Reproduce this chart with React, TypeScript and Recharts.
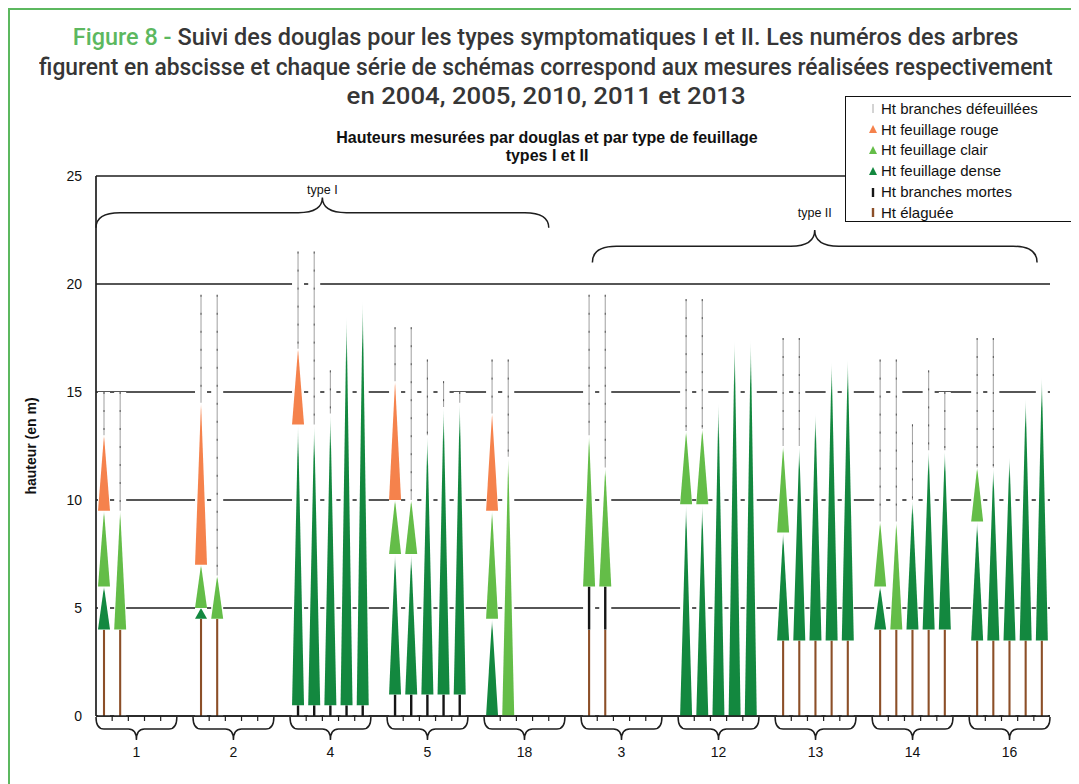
import React from 'react';
import { BarChart, Bar, XAxis, YAxis, CartesianGrid, ReferenceArea } from 'recharts';

// tree numbers on the x axis, each followed by 5 measurements
const TREES = ['1', '2', '4', '5', '18', '3', '12', '13', '14', '16'];
const YEARS = ['2004', '2005', '2010', '2011', '2013'];
const Y_TICKS = [0, 5, 10, 15, 20, 25];
const Y_MINOR = [0, 1, 2, 3, 4, 5, 6, 7, 8, 9, 10, 11, 12, 13, 14, 15, 16, 17, 18, 19, 20, 21, 22, 23, 24, 25];

// segment lengths (m), one row per tree, one value per year
const elaguee = [
  [4, 4, 0, 0, 0], [4.5, 4.5, 0, 0, 0], [0, 0, 0, 0, 0], [0, 0, 0, 0, 0], [0, 0, 0, 0, 0],
  [4, 4, 0, 0, 0], [0, 0, 0, 0, 0], [3.5, 3.5, 3.5, 3.5, 3.5], [4, 4, 4, 4, 4], [3.5, 3.5, 3.5, 3.5, 3.5],
];
const mortes = [
  [0, 0, 0, 0, 0], [0, 0, 0, 0, 0], [0.5, 0.5, 0.5, 0.5, 0.5], [1, 1, 1, 1, 1], [0, 0, 0, 0, 0],
  [2, 2, 0, 0, 0], [0, 0, 0, 0, 0], [0, 0, 0, 0, 0], [0, 0, 0, 0, 0], [0, 0, 0, 0, 0],
];
const dense = [
  [2, 0, 0, 0, 0], [0.5, 0, 0, 0, 0], [13, 13, 13.5, 18, 18.7], [6.5, 6.5, 12, 13.3, 13.5], [4.5, 0, 0, 0, 0],
  [0, 0, 0, 0, 0], [9.8, 9.8, 14.5, 17.4, 17.4], [5, 9, 10.5, 12.9, 13], [2, 0, 6, 8.3, 8.3], [5.5, 8, 8.5, 11.2, 12.2],
];
const clair = [
  [3.5, 5.5, 0, 0, 0], [2, 2, 0, 0, 0], [0, 0, 0, 0, 0], [2.5, 2.5, 0, 0, 0], [5, 12, 0, 0, 0],
  [7, 5.5, 0, 0, 0], [3.4, 3.5, 0, 0, 0], [4, 0, 0, 0, 0], [3, 5, 0, 0, 0], [2.5, 0, 0, 0, 0],
];
const rouge = [
  [3.5, 0, 0, 0, 0], [7.5, 0, 0, 0, 0], [3.5, 0, 0, 0, 0], [5.5, 0, 0, 0, 0], [4.5, 0, 0, 0, 0],
  [0, 0, 0, 0, 0], [0, 0, 0, 0, 0], [0, 0, 0, 0, 0], [0, 0, 0, 0, 0], [0, 0, 0, 0, 0],
];
const defeuil = [
  [2, 5.5, 0, 0, 0], [5, 13, 0, 0, 0], [4.5, 8, 2, 0, 0], [2.5, 8, 3.5, 1.2, 0.5], [2.5, 4.5, 0, 0, 0],
  [6.5, 8, 0, 0, 0], [6.1, 6, 0, 0, 0], [5, 5, 0, 0, 0], [7.5, 7.5, 3.5, 3.7, 2.7], [6, 6, 0, 0, 0],
];

const BRACES = [
  { label: 'type I', x1: 0, x2: 28, y1: 22.6, y2: 24.0, labelDy: -4 },
  { label: 'type II', x1: 30.7, x2: 58.2, y1: 21.0, y2: 22.5, labelDy: -13 },
];

const SERIES = [
  { key: 'elaguee', name: 'Ht élaguée', color: '#8c4f28', kind: 'line', w: 2.1, values: elaguee },
  { key: 'mortes', name: 'Ht branches mortes', color: '#151515', kind: 'line', w: 2.4, values: mortes },
  { key: 'dense', name: 'Ht feuillage dense', color: '#13883f', kind: 'tri', fade: 0.12, values: dense },
  { key: 'clair', name: 'Ht feuillage clair', color: '#64bd48', kind: 'tri', fade: 0.08, values: clair },
  { key: 'rouge', name: 'Ht feuillage rouge', color: '#f5824c', kind: 'tri', fade: 0.04, values: rouge },
  { key: 'defeuil', name: 'Ht branches défeuillées', color: '#a8a8a8', kind: 'line', w: 1.1, values: defeuil },
];

const SLOTS = 6; // 5 years + a gap
const rows = TREES.flatMap((tree, g) =>
  YEARS.map((year, s) => {
    const row: Record<string, number | string> = { x: g * SLOTS + s + 0.5, tree, year };
    SERIES.forEach((ser) => { row[ser.key] = ser.values[g][s]; });
    return row;
  })
);
const X_TICKS = TREES.map((_, g) => g * SLOTS + 2.5);

const FONT = "'Liberation Sans', Arial, sans-serif";
const CHART_W = 1060;
const CHART_H = 760;
const MARGIN = { top: 166, right: 20, bottom: 14, left: 46 };
const Y_W = 40;
const PLOT_W = CHART_W - MARGIN.left - MARGIN.right - Y_W;
const SLOT_PX = PLOT_W / (TREES.length * SLOTS - 1);
const INK = '#1e1e1e';

const makeShape = (ser: any) => (p: any) => {
  const { x, y, width, height } = p;
  if (!height || height < 0.05) return <g />;
  const cx = x + width / 2;
  if (ser.kind === 'tri') {
    return (
      <g>
        <rect x={x} y={y} width={width} height={height} fill="#fff" />
        <polygon points={`${x},${y + height} ${x + width},${y + height} ${cx},${y}`} fill={`url(#grad-${ser.key})`} />
      </g>
    );
  }
  return (
    <g>
      <rect x={x} y={y} width={width} height={height} fill="#fff" />
      <line x1={cx} x2={cx} y1={y} y2={y + height} stroke={ser.color} strokeWidth={ser.w} />
      {ser.key === 'defeuil' && (
        <line x1={cx} x2={cx} y1={y} y2={y + height} stroke="#555" strokeWidth={1} strokeDasharray="2 16" />
      )}
    </g>
  );
};

function GroupTick(props: any) {
  const { x, y, index } = props;
  const hw = 2.5 * SLOT_PX;
  const top = y + 1;
  const mid = y + 13;
  const tip = y + 24;
  const r = 8;
  const d = `M${x - hw},${top} Q${x - hw},${mid} ${x - hw + r},${mid} L${x - r},${mid} Q${x},${mid} ${x},${tip} Q${x},${mid} ${x + r},${mid} L${x + hw - r},${mid} Q${x + hw},${mid} ${x + hw},${top}`;
  return (
    <g>
      {[-1.5, -0.5, 0.5, 1.5].map((k) => (
        <line key={k} x1={x + k * SLOT_PX} x2={x + k * SLOT_PX} y1={y} y2={y + 5} stroke={INK} strokeWidth={1.2} />
      ))}
      <path d={d} fill="none" stroke={INK} strokeWidth={1.5} />
      <text x={x} y={y + 41} textAnchor="middle" fontSize={14} fill="#111" fontFamily={FONT}>{TREES[index]}</text>
    </g>
  );
}

const OverBrace = (b: any) => (p: any) => {
  const { x, y, width, height } = p;
  const cx = x + width / 2;
  const hy = y + height * 0.5;
  const bottom = y + height;
  const r = 24;
  const d = `M${x},${bottom} Q${x},${hy} ${x + r},${hy} L${cx - r},${hy} Q${cx},${hy} ${cx},${y} Q${cx},${hy} ${cx + r},${hy} L${x + width - r},${hy} Q${x + width},${hy} ${x + width},${bottom}`;
  return (
    <g>
      <path d={d} fill="none" stroke={INK} strokeWidth={1.5} />
      <text x={cx} y={y + b.labelDy} textAnchor="middle" fontSize={12.5} fill="#111" fontFamily={FONT}>{b.label}</text>
    </g>
  );
};

function LegendMark({ ser }: any) {
  if (ser.kind === 'tri') {
    return <svg width={10} height={12}><polygon points="1,10 9,10 5,2" fill={ser.color} /></svg>;
  }
  return (
    <svg width={10} height={12}>
      <line x1={5} x2={5} y1={2} y2={11} stroke={ser.color} strokeWidth={ser.key === 'defeuil' ? 1 : 2.4} />
    </svg>
  );
}

const TITLE_LINES = [
  'Suivi des douglas pour les types symptomatiques I et II. Les numéros des arbres',
  'figurent en abscisse et chaque série de schémas correspond aux mesures réalisées respectivement',
  'en 2004, 2005, 2010, 2011 et 2013',
];
const TITLE_SCALE = [1.02, 0.99, 1.12];

export default function App() {
  const titleLine: React.CSSProperties = { whiteSpace: 'nowrap', textAlign: 'center', height: 29.5, lineHeight: '29.5px' };
  return (
    <div style={{ position: 'relative', width: 1071, height: 776, boxSizing: 'border-box', borderTop: '2px solid #5cb85f', borderLeft: '2px solid #5cb85f', background: '#fff', overflow: 'hidden' }}>
      <div style={{ position: 'absolute', left: -164, top: 13, width: 1400, fontFamily: "Roboto, 'Noto Sans', sans-serif", fontSize: 23, fontWeight: 500, color: '#363636' }}>
        {TITLE_LINES.map((t, i) => (
          <div key={i} style={titleLine}>
            <span style={{ display: 'inline-block', transform: `scaleX(${TITLE_SCALE[i]})`, transformOrigin: 'center' }}>
              {i === 0 && <span style={{ color: '#5cb85f' }}>Figure 8 - </span>}
              {t}
            </span>
          </div>
        ))}
      </div>
      <div style={{ position: 'absolute', left: 0, top: 0 }}>
        <BarChart width={CHART_W} height={CHART_H} data={rows} margin={MARGIN} barSize={12}>
          <defs>
            {SERIES.filter((s) => s.kind === 'tri').map((s) => (
              <linearGradient key={s.key} id={`grad-${s.key}`} x1="0" y1="0" x2="0" y2="1">
                <stop offset="0" stopColor={s.color} stopOpacity={0.05} />
                <stop offset={s.fade} stopColor={s.color} stopOpacity={1} />
              </linearGradient>
            ))}
          </defs>
          <CartesianGrid yAxisId="h" vertical={false} stroke={INK} strokeWidth={1.7} />
          <XAxis type="number" dataKey="x" domain={[0, TREES.length * SLOTS - 1]} ticks={X_TICKS} interval={0}
            tick={(p: any) => <GroupTick {...p} />} tickLine={false} tickSize={0} tickMargin={0}
            axisLine={{ stroke: INK, strokeWidth: 1.7 }} height={40} allowDataOverflow />
          <YAxis yAxisId="m" mirror domain={[0, 25]} ticks={Y_MINOR} interval={0} tick={() => <g />}
            axisLine={false} tickLine={{ stroke: INK }} tickSize={3} />
          <YAxis yAxisId="h" domain={[0, 25]} ticks={Y_TICKS} interval={0} width={Y_W}
            tick={{ fontSize: 14, fill: '#111', fontFamily: FONT }} tickLine={false} tickSize={6} tickMargin={8}
            axisLine={{ stroke: INK, strokeWidth: 1.7 }} />
          {SERIES.map((s) => (
            <Bar key={s.key} yAxisId="h" dataKey={s.key} name={s.name} stackId="t" fill={s.color}
              shape={makeShape(s)} isAnimationActive={false} />
          ))}
          {BRACES.map((b) => (
            <ReferenceArea key={b.label} yAxisId="h" x1={b.x1} x2={b.x2} y1={b.y1} y2={b.y2} shape={OverBrace(b)} />
          ))}
        </BarChart>
      </div>
      <div style={{ position: 'absolute', left: 0, top: 119, width: 1074, textAlign: 'center', fontFamily: FONT, fontWeight: 700, fontSize: 16, lineHeight: '18px', color: '#111' }}>
        <div>Hauteurs mesurées par douglas et par type de feuillage</div>
        <div>types I et II</div>
      </div>
      <div style={{ position: 'absolute', left: 21, top: 436, transform: 'translate(-50%, -50%) rotate(-90deg)', whiteSpace: 'nowrap', fontFamily: FONT, fontWeight: 700, fontSize: 14, color: '#111' }}>
        hauteur (en m)
      </div>
      <div style={{ position: 'absolute', left: 835, top: 86, width: 260, height: 126, boxSizing: 'border-box', border: '1px solid #111', background: '#fff', paddingTop: 1, fontFamily: FONT, fontSize: 15, color: '#111' }}>
        {[...SERIES].reverse().map((s) => (
          <div key={s.key} style={{ display: 'flex', alignItems: 'center', height: 20.8, paddingLeft: 22 }}>
            <LegendMark ser={s} />
            <span style={{ marginLeft: 3 }}>{s.name}</span>
          </div>
        ))}
      </div>
    </div>
  );
}
